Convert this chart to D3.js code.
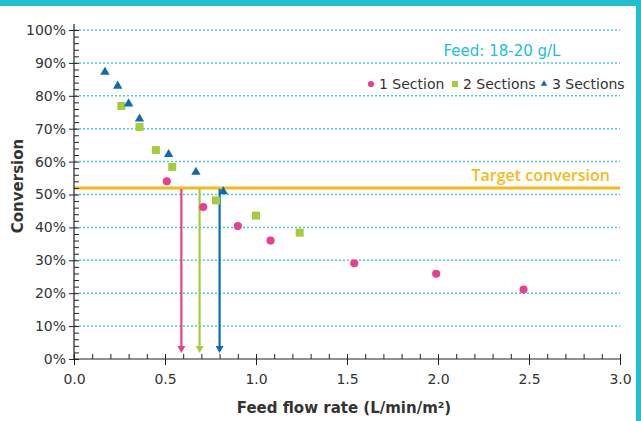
<!DOCTYPE html>
<html><head><meta charset="utf-8">
<script src="https://cdn.jsdelivr.net/npm/d3@7"></script>
<style>body{margin:0;background:#fff}svg{display:block}</style>
</head><body>
<svg id="chart" width="641" height="421"></svg>
<script>
// ---- data ----
const series1X = [0.51, 0.71, 0.90, 1.08, 1.54, 1.99, 2.47];
const series1Y = [54.0, 46.2, 40.4, 36.0, 29.1, 25.9, 21.1];
const series2X = [0.26, 0.36, 0.45, 0.54, 0.78, 1.00, 1.24];
const series2Y = [76.9, 70.5, 63.5, 58.4, 48.2, 43.6, 38.4];
const series3X = [0.17, 0.24, 0.30, 0.36, 0.52, 0.67, 0.82];
const series3Y = [87.2, 83.0, 77.6, 73.0, 62.2, 56.8, 50.9];
const seriesNames = ["1 Section", "2 Sections", "3 Sections"];
const targetConversion = 52;
const arrowX = [0.59, 0.69, 0.80];
const xTicks = [0, 0.5, 1.0, 1.5, 2.0, 2.5, 3.0];
const yTicks = [0, 10, 20, 30, 40, 50, 60, 70, 80, 90, 100];

const colors = ["#EA3F8E", "#A4CC3B", "#0E6AB3"];
const teal = "#22BFCF";
const gridTeal = "#4ACAD8";
const orange = "#F9BA18";
const textCol = "#333";
const font = "DejaVu Sans, Verdana, sans-serif";

const svg = d3.select("#chart");
// frame
svg.append("rect").attr("x",0).attr("y",0).attr("width",641).attr("height",6).attr("fill",teal);
svg.append("rect").attr("x",636).attr("y",0).attr("width",5).attr("height",421).attr("fill",teal);

const x = d3.scaleLinear().domain([0,3]).range([74,620]);
const y = d3.scaleLinear().domain([0,100]).range([359,30]);

// gridlines
svg.append("g").selectAll("line").data(yTicks.filter(d=>d>0)).join("line")
  .attr("x1",x(0)+1).attr("x2",x(3)).attr("y1",d=>y(d)).attr("y2",d=>y(d))
  .attr("stroke",gridTeal).attr("stroke-width",1.5).attr("stroke-dasharray","2,2");

// target line
svg.append("line").attr("x1",x(0)).attr("x2",x(3)).attr("y1",y(targetConversion)).attr("y2",y(targetConversion))
  .attr("stroke",orange).attr("stroke-width",3);
svg.append("text").attr("x",610).attr("y",180.5).attr("text-anchor","end")
  .attr("font-family","Open Sans, sans-serif").attr("font-weight",600).attr("font-size",16)
  .attr("fill",orange).text("Target conversion");

// y axis
const gy = svg.append("g").attr("transform",`translate(${x(0)},0)`);
gy.call(d3.axisLeft(y).tickValues(yTicks).tickSize(5).tickPadding(3).tickFormat(d=>d+"%"));
gy.select(".domain").remove();
gy.selectAll("text").attr("font-family",font).attr("font-size",14).attr("fill",textCol);
gy.selectAll("line").attr("stroke","#222");
const gyIn = svg.append("g").attr("transform",`translate(${x(0)},0)`);
gyIn.call(d3.axisRight(y).tickValues(d3.range(0,101,2)).tickSize(5).tickFormat(""));
gyIn.select(".domain").remove();
gyIn.selectAll("line").attr("stroke","#222");
svg.append("line").attr("x1",x(0)).attr("x2",x(0)).attr("y1",24).attr("y2",y(0)).attr("stroke","#222").attr("stroke-width",1.2);

// x axis
const gx = svg.append("g").attr("transform",`translate(0,${y(0)})`);
gx.call(d3.axisBottom(x).tickValues(xTicks).tickSize(6).tickPadding(9).tickFormat(d3.format(".1f")));
gx.select(".domain").remove();
gx.selectAll("text").attr("font-family",font).attr("font-size",14).attr("fill",textCol);
gx.selectAll("line").attr("stroke","#222");
const gxIn = svg.append("g").attr("transform",`translate(0,${y(0)})`);
gxIn.call(d3.axisTop(x).tickValues(d3.range(0,31).map(d=>d/10)).tickSize(5).tickFormat(""));
gxIn.select(".domain").remove();
gxIn.selectAll("line").attr("stroke","#222");
svg.append("line").attr("x1",x(0)).attr("x2",x(3)).attr("y1",y(0)).attr("y2",y(0)).attr("stroke","#222").attr("stroke-width",1.2);

// axis titles
svg.append("text").attr("x",344).attr("y",413).attr("text-anchor","middle")
  .attr("font-family",font).attr("font-weight","bold").attr("font-size",15).attr("fill",textCol)
  .text("Feed flow rate (L/min/m²)");
svg.append("text").attr("transform",`translate(23,186) rotate(-90)`).attr("text-anchor","middle")
  .attr("font-family",font).attr("font-weight","bold").attr("font-size",15).attr("fill",textCol)
  .text("Conversion");

// arrows
arrowX.forEach((v,i)=>{
  const top = y(targetConversion)+1, bot = y(1.8);
  svg.append("line").attr("x1",x(v)).attr("x2",x(v)).attr("y1",top).attr("y2",bot-6)
    .attr("stroke",colors[i]).attr("stroke-width",2.2);
  svg.append("path").attr("d",`M${x(v)-4},${bot-7} L${x(v)+4},${bot-7} L${x(v)},${bot} Z`).attr("fill",colors[i]);
});

// points
const sym = [d3.symbolCircle, d3.symbolSquare, d3.symbolTriangle];
const sizes = [52, 64, 38];
const data = [[series1X,series1Y],[series2X,series2Y],[series3X,series3Y]];
data.forEach(([xs,ys],i)=>{
  svg.append("g").selectAll("path").data(xs.map((v,j)=>[v,ys[j]])).join("path")
    .attr("transform",d=>`translate(${x(d[0])},${y(d[1])})`)
    .attr("d",d3.symbol().type(sym[i]).size(sizes[i])).attr("fill",colors[i]);
});

// feed label
svg.append("text").attr("x",502).attr("y",56).attr("text-anchor","middle")
  .attr("font-family",font).attr("font-size",15).attr("fill",teal).text("Feed: 18-20 g/L");

// legend
const legX = [371, 455, 544];
const legSize = [30, 36, 18];
seriesNames.forEach((n,i)=>{
  svg.append("path").attr("transform",`translate(${legX[i]},84)`)
    .attr("d",d3.symbol().type(sym[i]).size(legSize[i])).attr("fill",colors[i]);
  svg.append("text").attr("x",legX[i]+8).attr("y",88.5).attr("font-family",font).attr("font-size",14)
    .attr("fill",textCol).text(n);
});
</script>
</body></html>
